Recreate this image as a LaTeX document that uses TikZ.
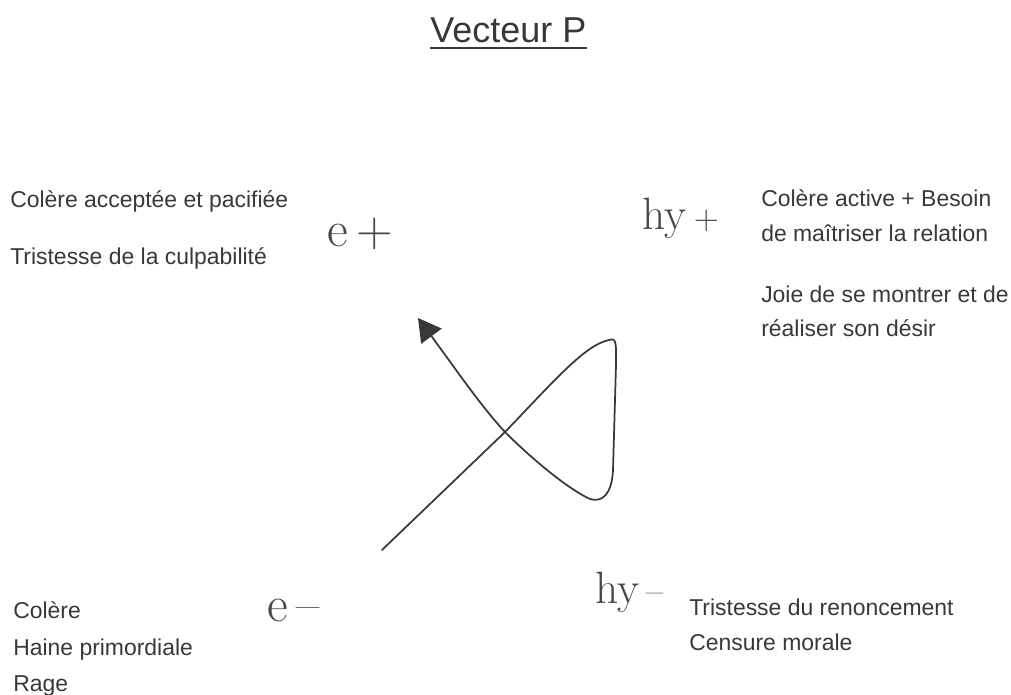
\documentclass[tikz,border=0pt]{standalone}
\usepackage{fontspec}
\newfontfamily\arialfont{Liberation Sans}
\usetikzlibrary{arrows.meta}

\begin{document}
\begin{tikzpicture}[x=0.75pt,y=-0.75pt,
  txt/.style={anchor=base west,inner sep=0pt,text=black!78,font=\arialfont\fontsize{17.2}{20}\selectfont},
  hand/.style={anchor=base west,inner sep=0pt,text=black!72,font=\fontsize{38}{44}\selectfont},
  handsmall/.style={hand,font=\fontsize{34}{40}\selectfont},
  loop/.style={draw=black!78,line width=1.3pt,line cap=round,line join=round}]
\useasboundingbox (0,0) rectangle (1011,695);
\node[txt,font=\arialfont\fontsize{27}{32}\selectfont] (title) at (430,43) {Vecteur P};
\draw[black!78,line width=1.1pt] ([yshift=-3.8pt]title.base west) -- ([yshift=-3.8pt]title.base east);
\node[txt] (eplus1) at (10,208) {Colère acceptée et pacifiée};
\node[txt] (eplus2) at (10,265) {Tristesse de la culpabilité};
\node[txt] (hyplus1) at (761,207) {Colère active + Besoin};
\node[txt] (hyplus2) at (761,242) {de maîtriser la relation};
\node[txt] (hyplus3) at (761,303) {Joie de se montrer et de};
\node[txt] (hyplus4) at (761,337) {réaliser son désir};
\node[txt] (eminus1) at (13,618) {Colère};
\node[txt] (eminus2) at (13,655) {Haine primordiale};
\node[txt] (eminus3) at (13,691) {Rage};
\node[txt] (hyminus1) at (689,615) {Tristesse du renoncement};
\node[txt] (hyminus2) at (689,650) {Censure morale};
\node[hand] (eplus) at (327,247) {e\,+};
\node[handsmall] (hyplus) at (642,230) {hy\,{\fontsize{26}{30}\selectfont+}};
\node[hand] (eminus) at (267,621) {e\,--};
\node[handsmall] (hyminus) at (595,603) {hy\,{\fontsize{28}{30}\selectfont--}};
\coordinate (start) at (382,550);
\coordinate (cross) at (505,432);
\coordinate (top) at (609,340);
\coordinate (bottom) at (590,499);
\coordinate (tip) at (418,318);
\draw[loop,-{Triangle[length=17pt,width=19pt]}] (start) -- (cross)
  .. controls (555,380) and (585,345) .. (top)
  .. controls (617,337) and (616,345) .. (616,365)
  -- (613,470) .. controls (612,493) and (603,503) .. (bottom)
  .. controls (570,490) and (535,462) .. (cross)
  .. controls (480,405) and (455,368) .. (tip);
\end{tikzpicture}
\end{document}
